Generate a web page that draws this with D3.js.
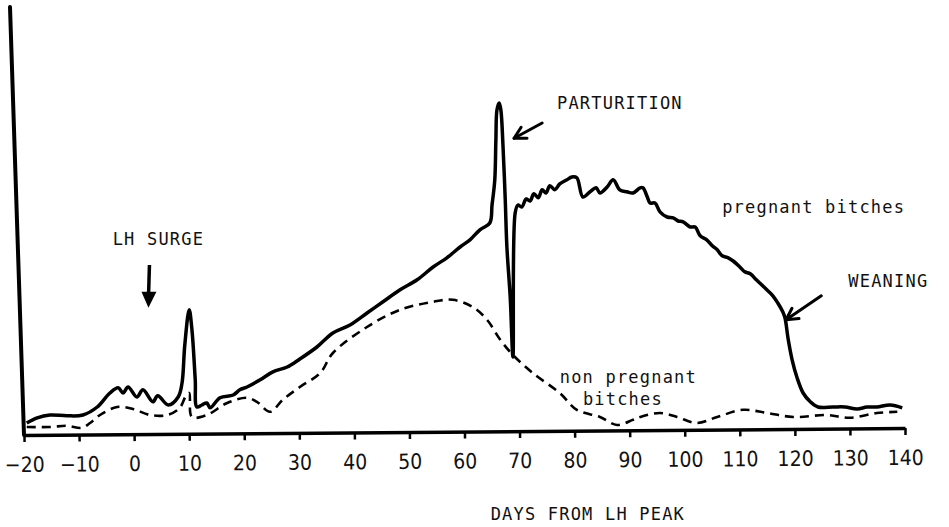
<!DOCTYPE html>
<html>
<head>
<meta charset="utf-8">
<script src="https://cdn.jsdelivr.net/npm/d3@7"></script>
<style>
  html, body { margin: 0; padding: 0; background: #fff; }
  #chart { width: 949px; height: 527px; }
  .tick text { font-family: "Liberation Sans Narrow", "DejaVu Sans Condensed", "Roboto", sans-serif; }
  .note { font-family: "DejaVu Sans Mono", monospace; font-size: 17px; letter-spacing: 1.2px; fill: #111; }
</style>
</head>
<body>
<div id="chart"></div>
<script>
const pregDays = [-19.5, -17.6, -15.3, -12.2, -9.3, -6.7, -4.4, -2.9, -2.0, -1.1, 0.5, 1.6, 3.4, 4.3, 6.2, 8.0, 8.7, 9.2, 10.0, 10.5, 11.1, 11.4, 12.3, 13.2, 13.8, 15.6, 18.0, 19.2, 20.5, 22.9, 25.2, 27.8, 30.1, 33.2, 36.1, 39.2, 42.3, 45.2, 48.3, 51.4, 54.3, 56.8, 59.2, 61.0, 62.8, 64.6, 65.0, 65.5, 65.7, 65.9, 66.3, 66.6, 67.0, 67.4, 67.7, 68.3, 68.8, 69.2, 69.7, 70.4, 71.2, 71.9, 72.6, 73.4, 74.1, 74.8, 75.5, 76.4, 77.3, 78.6, 79.5, 80.4, 81.5, 82.8, 83.9, 84.6, 85.9, 87.0, 88.2, 89.5, 90.6, 91.9, 92.4, 93.2, 93.7, 94.6, 95.5, 96.8, 97.9, 98.8, 99.7, 101.0, 101.9, 102.8, 104.0, 105.0, 105.9, 106.8, 107.9, 108.8, 110.0, 110.9, 111.9, 113.0, 114.0, 114.9, 116.0, 116.9, 117.8, 118.2, 118.8, 119.5, 120.4, 121.5, 122.8, 124.2, 126.9, 129.1, 131.3, 133.1, 134.9, 137.3, 139.5];
const pregValues = [3.0, 4.3, 5.0, 4.8, 5.0, 7.0, 10.5, 11.8, 10.5, 12.0, 9.5, 11.3, 8.3, 9.8, 7.5, 9.5, 13.0, 22.5, 31.3, 26.3, 13.8, 7.0, 7.5, 8.0, 6.8, 9.3, 10.0, 11.3, 12.0, 13.8, 15.8, 17.0, 19.0, 22.0, 25.5, 27.5, 30.5, 33.3, 36.3, 38.8, 42.0, 44.3, 47.0, 48.8, 51.3, 53.0, 57.5, 63.8, 73.8, 81.3, 83.0, 81.3, 72.0, 58.8, 47.0, 34.5, 19.5, 55.5, 57.5, 57.0, 59.0, 58.5, 60.3, 59.3, 61.3, 60.5, 62.3, 61.3, 62.8, 63.8, 64.5, 64.3, 59.5, 60.8, 61.8, 60.5, 62.0, 63.8, 61.3, 60.8, 60.5, 61.8, 61.8, 59.5, 58.0, 58.0, 55.8, 54.5, 54.3, 53.5, 53.3, 52.0, 52.0, 49.8, 48.8, 47.3, 46.3, 44.8, 44.3, 43.5, 42.0, 40.8, 40.3, 38.8, 37.5, 36.3, 34.8, 33.0, 30.8, 29.3, 23.8, 18.8, 14.3, 10.5, 8.3, 7.0, 7.0, 7.0, 6.5, 7.0, 7.0, 7.5, 6.8];

// trace of the non pregnant bitches
const nonPregDays = [-19.5, -15.3, -12.2, -9.5, -8.0, -6.2, -3.1, -0.2, 2.9, 6.0, 8.3, 9.4, 10.0, 10.5, 13.2, 16.9, 20.5, 22.3, 24.7, 27.0, 30.1, 33.8, 36.1, 42.3, 48.3, 54.3, 57.9, 61.5, 64.1, 66.5, 68.8, 72.4, 77.3, 80.4, 84.6, 87.7, 90.6, 91.9, 95.5, 98.6, 102.2, 105.9, 110.6, 114.9, 119.7, 125.8, 130.0, 134.9, 138.6];
const nonPregValues = [2.0, 2.0, 2.3, 1.8, 3.0, 5.0, 7.0, 6.5, 5.0, 5.0, 6.8, 9.8, 10.5, 4.5, 5.0, 8.0, 9.3, 8.3, 5.8, 8.8, 12.0, 15.5, 20.5, 27.0, 31.3, 33.3, 33.8, 32.0, 28.8, 23.8, 20.0, 15.5, 10.5, 6.3, 4.5, 2.5, 3.8, 4.5, 5.5, 4.5, 3.0, 4.5, 6.3, 5.5, 4.5, 5.0, 4.3, 5.5, 5.8];

const tickDays = [-20, -10, 0, 10, 20, 30, 40, 50, 60, 70, 80, 90, 100, 110, 120, 130, 140];

const noteLabels = ["LH SURGE", "PARTURITION", "pregnant bitches", "WEANING", "non pregnant", "bitches"];
const axisTitle = "DAYS FROM LH PEAK";

const width = 949, height = 527;
const svg = d3.select("#chart").append("svg")
    .attr("width", width)
    .attr("height", height)
    .attr("viewBox", [0, 0, width, height]);

const x = d3.scaleLinear().domain([-20, 140]).range([24, 905]);
const y = d3.scaleLinear().domain([0, 100]).range([435, 35]);

const line = d3.line()
    .x(d => x(d[0]))
    .y(d => y(d[1]))
    .curve(d3.curveCatmullRom.alpha(0.5));

// y axis (hand drawn, leaning a little)
svg.append("line")
    .attr("x1", x(-20) - 14).attr("y1", y(107))
    .attr("x2", x(-20)).attr("y2", y(0))
    .attr("stroke", "#000").attr("stroke-width", 4).attr("stroke-linecap", "round");

// x axis, tilted slightly as in the original drawing
const xAxis = svg.append("g")
    .attr("transform", `translate(0,${y(0)}) rotate(-0.45, ${x(-20)}, 0)`)
    .call(d3.axisBottom(x).tickValues(tickDays).tickSize(7).tickSizeOuter(0).tickPadding(15));
xAxis.select(".domain").attr("stroke", "#000").attr("stroke-width", 3.5);
xAxis.selectAll(".tick line").attr("stroke", "#000").attr("stroke-width", 2.5);
xAxis.selectAll(".tick text").attr("font-size", 21).attr("fill", "#111").attr("font-family", null);

svg.append("text")
    .attr("class", "note")
    .attr("x", x(82.4)).attr("y", 520)
    .attr("text-anchor", "middle")
    .text(axisTitle);

// curves
svg.append("path")
    .datum(d3.zip(nonPregDays, nonPregValues))
    .attr("d", line)
    .attr("fill", "none")
    .attr("stroke", "#000")
    .attr("stroke-width", 2.6)
    .attr("stroke-dasharray", "9,6");

svg.append("path")
    .datum(d3.zip(pregDays, pregValues))
    .attr("d", line)
    .attr("fill", "none")
    .attr("stroke", "#000")
    .attr("stroke-width", 3.5)
    .attr("stroke-linejoin", "round");

// annotation texts
const notePos = [[-3.9, 47.5], [76.8, 81.5], [106.8, 55.5], [129.7, 37], [77.3, 13], [81.5, 7.4]];
svg.selectAll(".lbl")
    .data(noteLabels)
    .enter().append("text")
    .attr("class", "note")
    .attr("x", (d, i) => x(notePos[i][0]))
    .attr("y", (d, i) => y(notePos[i][1]))
    .text(d => d);

// LH surge arrow (solid head pointing down)
const lhx = x(2.6);
svg.append("line")
    .attr("x1", lhx + 1).attr("y1", y(42.5))
    .attr("x2", lhx).attr("y2", y(34))
    .attr("stroke", "#000").attr("stroke-width", 3.5);
svg.append("path")
    .attr("d", `M${lhx - 7},${y(35.8)} L${lhx + 8},${y(35.8)} L${lhx},${y(31.8)} Z`)
    .attr("fill", "#000");

// open-headed arrows for parturition and weaning
function arrow(x1, y1, x2, y2) {
    const a = Math.atan2(y2 - y1, x2 - x1);
    const h = 13, spread = 0.5;
    svg.append("line")
        .attr("x1", x1).attr("y1", y1).attr("x2", x2).attr("y2", y2)
        .attr("stroke", "#000").attr("stroke-width", 3).attr("stroke-linecap", "round");
    svg.append("path")
        .attr("d", `M${x2 - h * Math.cos(a - spread)},${y2 - h * Math.sin(a - spread)} L${x2},${y2} L${x2 - h * Math.cos(a + spread)},${y2 - h * Math.sin(a + spread)}`)
        .attr("fill", "none").attr("stroke", "#000").attr("stroke-width", 3)
        .attr("stroke-linecap", "round").attr("stroke-linejoin", "round");
}
arrow(x(74.1), y(78), x(69.0), y(74.2));
arrow(x(124.8), y(34.8), x(118.4), y(28.8));
</script>
</body>
</html>
